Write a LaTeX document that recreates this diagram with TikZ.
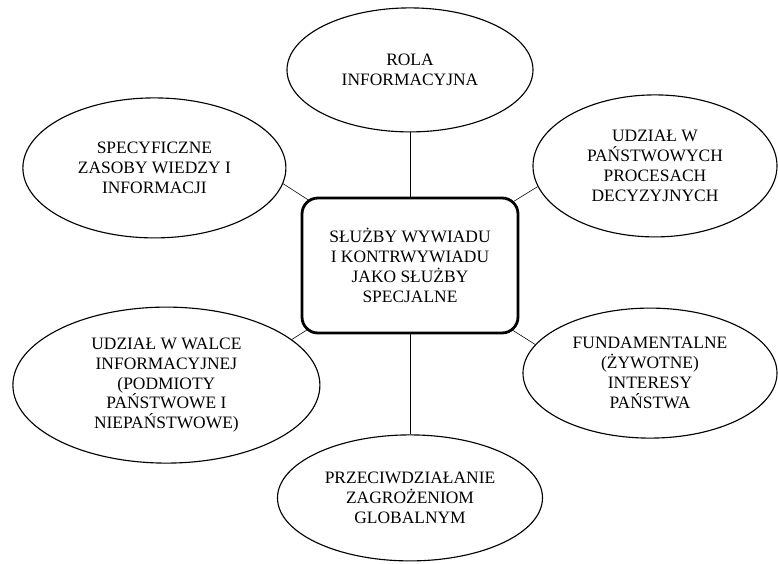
\documentclass[tikz,border=0pt]{standalone}
\usepackage{fontspec}
\setmainfont{Liberation Serif}
\usepackage{tikz}
\usetikzlibrary{shapes.geometric, positioning, backgrounds}

\begin{document}
\begin{tikzpicture}[node distance=1cm, on grid,
    oval/.style={draw, ellipse, line width=0.8pt, fill=white, inner sep=0pt, align=center, font=\fontsize{12.4}{14.2}\selectfont},
    mainbox/.style={draw, rectangle, rounded corners=0.4cm, line width=2pt, fill=white, minimum width=5.4cm, minimum height=3.375cm, align=center, font=\fontsize{12.4}{14.2}\selectfont}]
    \useasboundingbox (-10.25,-7.4375) rectangle (9.2,6.6375);
    % Nodes
    \node[mainbox] (sluzby) {SŁUŻBY WYWIADU\\I KONTRWYWIADU\\JAKO SŁUŻBY\\SPECJALNE};
    \node[oval, above of=sluzby, node distance=4.89cm, minimum width=6.15cm, minimum height=3.1cm] (rola) {ROLA\\INFORMACYJNA};
    \node[oval, above left=2.44cm and 6.39cm of sluzby, minimum width=6.575cm, minimum height=3.5cm] (zasoby) {SPECYFICZNE\\ZASOBY WIEDZY I\\INFORMACJI};
    \node[oval, above right=2.49cm and 6.125cm of sluzby, minimum width=6.1cm, minimum height=3.55cm] (decyzje) {UDZIAŁ W\\PAŃSTWOWYCH\\PROCESACH\\DECYZYJNYCH};
    \node[oval, below left=2.99cm and 6.09cm of sluzby, minimum width=7.675cm, minimum height=3.9cm] (walka) {UDZIAŁ W WALCE\\INFORMACYJNEJ\\(PODMIOTY\\PAŃSTWOWE I\\NIEPAŃSTWOWE)};
    \node[oval, below right=2.69cm and 6cm of sluzby, minimum width=6.35cm, minimum height=3.25cm] (interesy) {FUNDAMENTALNE\\(ŻYWOTNE)\\INTERESY\\PAŃSTWA};
    \node[oval, below of=sluzby, node distance=5.81cm, minimum width=6.625cm, minimum height=3.15cm] (zagrozenia) {PRZECIWDZIAŁANIE\\ZAGROŻENIOM\\GLOBALNYM};

    % Lines
    \begin{scope}[on background layer, line width=0.6pt]
        \draw (sluzby.center) -- (rola.south);
        \draw (sluzby.center) -- (zasoby.-7);
        \draw (sluzby.center) -- (decyzje.190);
        \draw (sluzby.center) -- (walka.20);
        \draw (sluzby.center) -- (interesy.166);
        \draw (sluzby.center) -- (zagrozenia.north);
    \end{scope}
\end{tikzpicture}
\end{document}
